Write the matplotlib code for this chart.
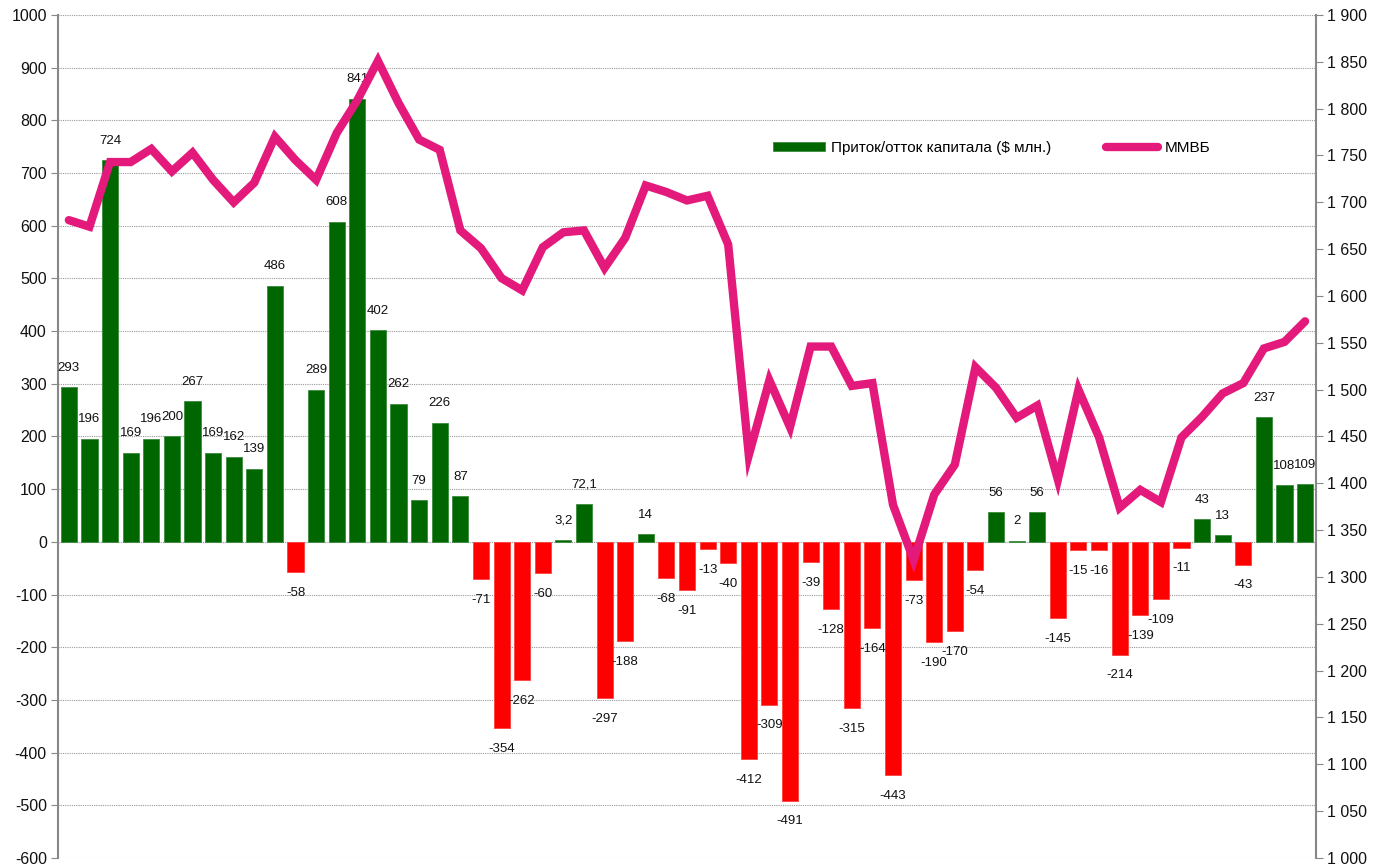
import matplotlib
matplotlib.use('Agg')
import matplotlib.pyplot as plt
from matplotlib.ticker import FuncFormatter, MultipleLocator

plt.rcParams['font.family'] = ['Liberation Sans', 'DejaVu Sans']
plt.rcParams['axes.unicode_minus'] = False

# приток/отток капитала, $ млн.
flows = [293, 196, 724, 169, 196, 200, 267, 169, 162, 139, 486, -58, 289, 608, 841,
         402, 262, 79, 226, 87, -71, -354, -262, -60, 3.2, 72.1, -297, -188, 14, -68,
         -91, -13, -40, -412, -309, -491, -39, -128, -315, -164, -443, -73, -190, -170,
         -54, 56, 2, 56, -145, -15, -16, -214, -139, -109, -11, 43, 13, -43, 237, 108, 109]

# индекс ММВБ
micex = [1681, 1674, 1743, 1743, 1757, 1733, 1753, 1724, 1700, 1721, 1770, 1745, 1724,
         1774, 1809, 1851, 1806, 1767, 1756, 1670, 1651, 1619, 1606, 1652, 1668, 1670,
         1630, 1662, 1718, 1711, 1702, 1707, 1655, 1430, 1510, 1460, 1546, 1546, 1504,
         1507, 1377, 1318, 1388, 1420, 1524, 1502, 1470, 1483, 1404, 1500, 1449, 1374,
         1393, 1380, 1449, 1471, 1496, 1507, 1544, 1551, 1573]

green = '#006600'
red = '#ff0000'
pink = '#e3197b'

x = list(range(len(flows)))
colors = [green if v >= 0 else red for v in flows]
edges = ['#3d8a3d' if v >= 0 else '#ff4040' for v in flows]

fig, ax = plt.subplots(figsize=(13.73, 8.67), dpi=100)
fig.subplots_adjust(left=0.0422, right=0.9585, top=0.9827, bottom=0.0104)

bars = ax.bar(x, flows, width=0.78, color=colors, edgecolor=edges, linewidth=0.6,
              label='Приток/отток капитала ($ млн.)', zorder=2)

for xi, v in zip(x, flows):
    txt = str(v).replace('.', ',') if isinstance(v, float) else str(v)
    if v >= 0:
        ax.annotate(txt, (xi, v), xytext=(0, 14), textcoords='offset points',
                    ha='center', va='center', fontsize=9.5, color='#111111')
    else:
        ax.annotate(txt, (xi, v), xytext=(0, -15), textcoords='offset points',
                    ha='center', va='center', fontsize=9.5, color='#111111')

ax.set_xlim(-0.53, 60.53)
ax.set_ylim(-600, 1000)
ax.yaxis.set_major_locator(MultipleLocator(100))
ax.grid(axis='y', linestyle=(0, (1, 1)), color='#999999', linewidth=0.8, zorder=0)
ax.set_axisbelow(True)
ax.set_xticks([])
for s in ['top', 'bottom', 'right']:
    ax.spines[s].set_visible(False)
ax.spines['left'].set_color('#888888')
ax.spines['left'].set_linewidth(1.5)
ax.tick_params(axis='y', direction='out', length=5, color='#888888', labelsize=11.5,
               labelcolor='#111111', pad=3)

ax2 = ax.twinx()
ax2.plot(x, micex, color=pink, linewidth=6, solid_joinstyle='miter',
         solid_capstyle='round', label='ММВБ', zorder=3)
ax2.set_ylim(1000, 1900)
ax2.yaxis.set_major_locator(MultipleLocator(50))
ax2.yaxis.set_major_formatter(FuncFormatter(lambda v, p: f'{int(v):,}'.replace(',', ' ')))
for s in ['top', 'bottom', 'left']:
    ax2.spines[s].set_visible(False)
ax2.spines['right'].set_color('#888888')
ax2.spines['right'].set_linewidth(1.5)
ax2.tick_params(axis='y', direction='out', length=5, color='#888888', labelsize=11.5,
                labelcolor='#111111', pad=3)

h1, l1 = ax.get_legend_handles_labels()
h2, l2 = ax2.get_legend_handles_labels()
leg = ax2.legend(h1 + h2, l1 + l2, loc='center', bbox_to_anchor=(0.742, 0.842), ncol=2,
                 frameon=False, fontsize=11, handlelength=3.4, handleheight=0.5,
                 columnspacing=3.6, handletextpad=0.4)

fig.savefig('out.png', dpi=100)
